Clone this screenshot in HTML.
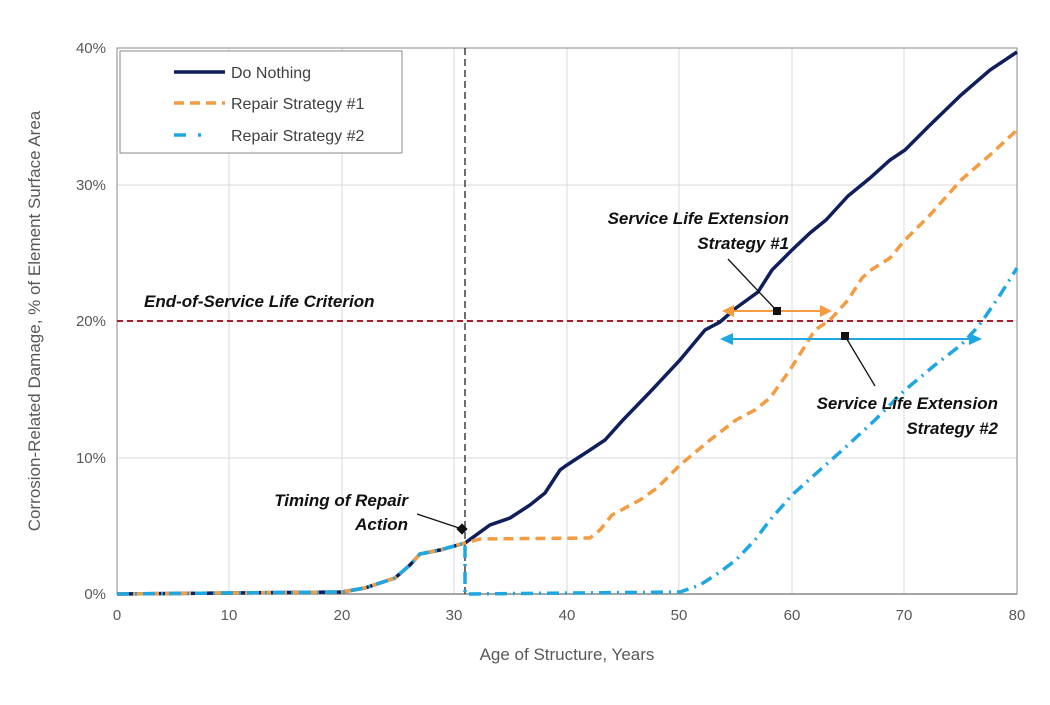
<!DOCTYPE html>
<html><head><meta charset="utf-8"><style>
body{margin:0;background:#fff;}
svg text{font-family:"Liberation Sans","DejaVu Sans",sans-serif;}
</style></head><body>
<svg width="1050" height="700" viewBox="0 0 1050 700" xmlns="http://www.w3.org/2000/svg">
<rect width="1050" height="700" fill="#fff"/>
<g stroke="#d9d9d9" stroke-width="1">
<line x1="229" y1="48" x2="229" y2="594"/><line x1="342" y1="48" x2="342" y2="594"/>
<line x1="454" y1="48" x2="454" y2="594"/><line x1="567" y1="48" x2="567" y2="594"/>
<line x1="679" y1="48" x2="679" y2="594"/><line x1="792" y1="48" x2="792" y2="594"/>
<line x1="904" y1="48" x2="904" y2="594"/><line x1="1017" y1="48" x2="1017" y2="594"/>
<line x1="117" y1="458" x2="1017" y2="458"/><line x1="117" y1="321" x2="1017" y2="321"/>
<line x1="117" y1="185" x2="1017" y2="185"/><line x1="117" y1="48" x2="1017" y2="48"/>
</g>
<rect x="117" y="48" width="900" height="546" fill="none" stroke="#888" stroke-width="1"/>
<line x1="117" y1="594" x2="1017" y2="594" stroke="#888" stroke-width="1.5"/>
<g font-size="15" fill="#595959">
<text x="106" y="599" text-anchor="end">0%</text><text x="106" y="463" text-anchor="end">10%</text>
<text x="106" y="326" text-anchor="end">20%</text><text x="106" y="190" text-anchor="end">30%</text>
<text x="106" y="53" text-anchor="end">40%</text>
<g text-anchor="middle">
<text x="117" y="620">0</text><text x="229" y="620">10</text><text x="342" y="620">20</text>
<text x="454" y="620">30</text><text x="567" y="620">40</text><text x="679" y="620">50</text>
<text x="792" y="620">60</text><text x="904" y="620">70</text><text x="1017" y="620">80</text>
</g></g>
<text x="567" y="660" text-anchor="middle" font-size="17" fill="#595959">Age of Structure, Years</text>
<text transform="translate(40,321) rotate(-90)" text-anchor="middle" font-size="17" fill="#595959">Corrosion-Related Damage, % of Element Surface Area</text>
<line x1="117" y1="321" x2="1017" y2="321" stroke="#a0202a" stroke-width="2" stroke-dasharray="6,4"/>
<line x1="465" y1="48" x2="465" y2="594" stroke="#222" stroke-width="1.3" stroke-dasharray="7,4"/>
<polyline fill="none" stroke="#0f1f5c" stroke-width="3.5" points="117,594 230,593 342,592 365,588 395,578 410,565 420,554 440,550 465,543 490,525 510,518 530,505 545,493 560,470 567,465 590,450 605,440 623,420 650,392 680,360 705,330 720,322 736,308 758,292 772,270 792,250 810,233 826,220 848,196 870,178 890,160 905,150 930,125 961,95 990,70 1017,52"/>
<polyline fill="none" stroke="#f39c42" stroke-width="3.5" stroke-dasharray="10,6" points="117,594 230,593 342,592 365,588 395,578 410,565 420,554 440,550 465,543 480,539 590,538 600,530 612,515 640,500 657,488 680,465 710,440 736,420 755,410 770,398 790,370 815,330 830,320 848,300 862,278 871,270 890,258 905,240 930,215 961,180 990,155 1017,130"/>
<polyline fill="none" stroke="#1ea7e1" stroke-width="3.5" stroke-dasharray="12,6,2,6" points="117,594 230,593 342,592 365,588 395,578 410,565 420,554 440,550 465,543 465,594 680,592 700,585 720,572 736,560 755,540 770,520 792,495 820,470 848,445 875,420 905,390 935,365 961,345 975,330 983,320 1000,295 1017,268"/>
<!-- arrows -->
<line x1="730" y1="311" x2="822" y2="311" stroke="#f39c42" stroke-width="2"/>
<polygon points="722,311 734,305 734,317" fill="#f39c42"/><polygon points="832,311 820,305 820,317" fill="#f39c42"/>
<line x1="730" y1="339" x2="972" y2="339" stroke="#1ea7e1" stroke-width="2"/>
<polygon points="720,339 733,333 733,345" fill="#1ea7e1"/><polygon points="982,339 969,333 969,345" fill="#1ea7e1"/>
<line x1="728" y1="259" x2="777" y2="311" stroke="#111" stroke-width="1.3"/>
<rect x="773" y="307" width="8" height="8" fill="#111"/>
<line x1="845" y1="336" x2="875" y2="386" stroke="#111" stroke-width="1.3"/>
<rect x="841" y="332" width="8" height="8" fill="#111"/>
<line x1="417" y1="514" x2="462" y2="529" stroke="#111" stroke-width="1.3"/>
<rect x="458" y="525" width="8" height="8" fill="#111" transform="rotate(45 462 529)"/>
<g font-size="17" font-style="italic" font-weight="bold" fill="#111">
<text x="789" y="224" text-anchor="end">Service Life Extension</text>
<text x="789" y="249" text-anchor="end">Strategy #1</text>
<text x="998" y="409" text-anchor="end">Service Life Extension</text>
<text x="998" y="434" text-anchor="end">Strategy #2</text>
<text x="144" y="307">End-of-Service Life Criterion</text>
<text x="408" y="506" text-anchor="end">Timing of Repair</text>
<text x="408" y="530" text-anchor="end">Action</text>
</g>
<!-- legend -->
<rect x="120" y="51" width="282" height="102" fill="#fff" stroke="#888" stroke-width="1"/>
<line x1="174" y1="72" x2="225" y2="72" stroke="#0f1f5c" stroke-width="3.5"/>
<line x1="174" y1="103" x2="225" y2="103" stroke="#f39c42" stroke-width="3.5" stroke-dasharray="10,6"/>
<line x1="174" y1="135" x2="225" y2="135" stroke="#1ea7e1" stroke-width="3.5" stroke-dasharray="12,12,3,30"/>
<g font-size="16" fill="#404040">
<text x="231" y="78">Do Nothing</text>
<text x="231" y="109">Repair Strategy #1</text>
<text x="231" y="141">Repair Strategy #2</text>
</g>
</svg>
</body></html>
